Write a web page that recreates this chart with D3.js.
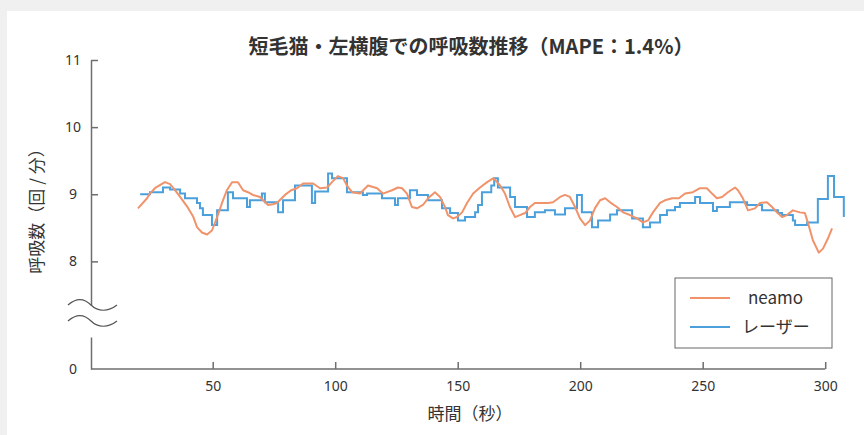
<!DOCTYPE html>
<html>
<head>
<meta charset="utf-8">
<script src="https://cdnjs.cloudflare.com/ajax/libs/d3/7.8.5/d3.min.js"></script>
<style>
    body {margin: 0; background: #f0f0f0;}
    svg {display: block; font-family: "Noto Sans CJK JP", "Noto Sans", sans-serif;}
    .axis path, .axis line {stroke: #6e6e6e; stroke-width: 1.5;}
    .axis text {fill: #333; font-size: 14px; font-family: "Noto Sans", "Noto Sans CJK JP", sans-serif;}
</style>
</head>
<body>
<div id="chart"></div>
<script>
var neamoTime = [19.5, 23.2, 24.4, 26.4, 30.5, 32.6, 34.6, 36.7, 39.5, 42, 43.6, 45.6, 47.7, 49.7, 51.8, 53.8, 55.8, 57.9, 60.3,
    62.4, 64.4, 66.4, 69.3, 70.9, 72.6, 74.6, 76.2, 79.5, 82, 84.4, 86.9, 91, 93.8, 96.7, 98.7, 101.1, 103.2, 104.8, 106.9,
    110.1, 113.4, 117.1, 119.5, 123.2, 125.6, 127.3, 129.3, 131.3, 133.4, 135.8, 137.9, 140.7, 142.8, 144.8, 146, 148.1,
    149.7, 151.8, 153.8, 156.3, 159.1, 162, 164.6, 167.3, 169.3, 171.3, 173.4, 175.4, 177.5, 179.5, 181.5, 184.8, 186.9,
    188.9, 191.8, 193.8, 195.8, 197.9, 199.9, 202, 204, 206, 208.1, 210.2, 212.2, 215, 217.5, 220.3, 223.2, 225.6, 227.7,
    229.7, 232.6, 234.6, 237.5, 240.3, 242.8, 246, 248.9, 251.7, 253.8, 255.8, 257.9, 260.3, 263.2, 264.4, 266.4, 268.5,
    271.3, 273.4, 276.2, 278.3, 280.3, 282.4, 284.4, 286.8, 289.7, 291.7, 293, 295, 297.4, 299.1, 301.1, 302.8];
var neamoValue = [8.79, 8.94, 9.01, 9.09, 9.18, 9.15, 9.06, 8.96, 8.82, 8.67, 8.51, 8.43, 8.40, 8.46, 8.66, 8.87, 9.06, 9.18, 9.18,
    9.06, 9.03, 8.99, 8.96, 8.90, 8.84, 8.85, 8.87, 8.99, 9.06, 9.09, 9.16, 9.16, 9.09, 9.10, 9.18, 9.27, 9.24, 9.13, 9.03,
    9.01, 9.13, 9.09, 9.01, 9.06, 9.10, 9.09, 9.01, 8.81, 8.79, 8.84, 8.94, 9.03, 8.96, 8.81, 8.69, 8.64,
    8.66, 8.73, 8.87, 9.01, 9.10, 9.18, 9.24, 9.13, 9.01, 8.81, 8.66, 8.69, 8.72, 8.81, 8.87, 8.87, 8.87,
    8.88, 8.96, 8.99, 8.96, 8.81, 8.64, 8.54, 8.61, 8.79, 8.91, 8.94, 8.88, 8.81, 8.73, 8.69, 8.64, 8.58, 8.61,
    8.73, 8.87, 8.91, 8.94, 8.94, 9.01, 9.03, 9.09, 9.09, 9.01, 8.94, 8.96, 9.03, 9.10, 9.06, 8.94, 8.76,
    8.79, 8.87, 8.88, 8.81, 8.73, 8.66, 8.69, 8.76, 8.73, 8.72, 8.57, 8.31, 8.13, 8.19, 8.34, 8.49];

// laser: step changes (time, value)
var laserTime = [20.4, 24.4, 29.7, 32.6, 36.7, 38.7, 43.6, 44.8, 46, 49.7, 51.8, 56.2, 58.3, 64, 65.2, 70.1, 71.3, 76.7, 78.7,
    83.6, 90.5, 91.8, 97.1, 98.7, 104.8, 111.3, 113, 119.1, 124.4, 125.6, 130.5, 133.4, 137.9, 143.6, 146.9, 150.1, 153,
    157.1, 158.3, 159.9, 163.7, 164.9, 166.4, 171.4, 173.4, 178.3, 181.5, 185.6, 189.7, 193.8, 198.7, 200.7, 204.8, 207.3,
    212.2, 215, 221.2, 225.6, 228.5, 232.6, 235.4, 238.7, 240.7, 246.9, 248.9, 254.2, 255.8, 261.1, 268.1, 274.2, 280.7,
    282.4, 286.8, 287.7, 292.6, 297, 301.1, 303.6, 307.6];
var laserValue = [9.00, 9.03, 9.10, 9.07, 9.01, 8.94, 8.87, 8.79, 8.69, 8.54, 8.76, 9.03, 8.94, 8.81, 8.91, 9.01, 8.88, 8.73, 8.91,
    9.13, 8.87, 9.04, 9.31, 9.24, 9.03, 8.99, 9.01, 8.94, 8.84, 8.94, 9.06, 8.99, 8.91, 8.79, 8.72, 8.61, 8.66,
    8.73, 8.84, 9.03, 9.13, 9.24, 9.10, 8.96, 8.81, 8.66, 8.73, 8.76, 8.70, 8.79, 8.99, 8.73, 8.51, 8.61,
    8.70, 8.76, 8.64, 8.51, 8.58, 8.69, 8.76, 8.81, 8.87, 8.96, 8.87, 8.75, 8.81, 8.88, 8.84, 8.76, 8.72,
    8.69, 8.61, 8.54, 8.58, 8.93, 9.27, 8.96, 8.66];

var xTicks = [50, 100, 150, 200, 250, 300];
var yTicks = [8, 9, 10, 11];
var seriesNames = ["neamo", "レーザー"];
var seriesColors = ["#f0936b", "#4ba0dc"];

var width = 864, height = 435;
var svg = d3.select("#chart").append("svg").attr("width", width).attr("height", height);

svg.append("rect").attr("x", 7).attr("y", 11).attr("width", width - 7).attr("height", height - 11).attr("fill", "#fff");

var x = d3.scaleLinear().domain([0, 300]).range([90.2, 825.2]);
var y = d3.scaleLinear().domain([7.35, 11]).range([305, 60]);   // upper part, above the break
var y0 = d3.scaleLinear().domain([0, 1]).range([369, 337]);     // lower part with the 0

// x axis
svg.append("g").attr("class", "axis").attr("transform", "translate(0,369)")
    .call(d3.axisBottom(x).tickValues(xTicks).tickSize(-7).tickPadding(12).tickSizeOuter(0).tickFormat(d3.format("d")))
    .call(function(g) {
        g.select(".domain").attr("d", "M91,0H" + x(300));
        g.selectAll("text").attr("dy", "0.71em");
    });

// y axis upper
svg.append("g").attr("class", "axis").attr("transform", "translate(91,0)")
    .call(d3.axisLeft(y).tickValues(yTicks).tickSize(-7).tickPadding(0).tickSizeOuter(0).tickFormat(d3.format("d")))
    .call(function(g) {
        g.selectAll("text").attr("text-anchor", "middle").attr("x", -18);
    });

// y axis lower
svg.append("g").attr("class", "axis").attr("transform", "translate(91,0)")
    .call(d3.axisLeft(y0).tickValues([0]).tickSize(0).tickPadding(0).tickSizeOuter(0).tickFormat(d3.format("d")))
    .call(function(g) {
        g.selectAll("text").attr("text-anchor", "middle").attr("x", -18);
    });

// break marks
var wave = "M68,0 C76,-7 84,-7 91,0 C98,7 108,7 117,0";
[305, 321].forEach(function(yy) {
    svg.append("path").attr("d", wave).attr("transform", "translate(0," + yy + ")")
        .attr("fill", "none").attr("stroke", "#555").attr("stroke-width", 1.2);
});

var neamo = neamoTime.map(function(t, i) { return [t, neamoValue[i]]; });
var laser = laserTime.map(function(t, i) { return [t, laserValue[i]]; });

svg.append("path").datum(laser)
    .attr("fill", "none").attr("stroke", seriesColors[1]).attr("stroke-width", 2)
    .attr("d", d3.line().x(function(d) { return x(d[0]); }).y(function(d) { return y(d[1]); }).curve(d3.curveStepAfter));

svg.append("path").datum(neamo)
    .attr("fill", "none").attr("stroke", seriesColors[0]).attr("stroke-width", 2).attr("stroke-linejoin", "round")
    .attr("d", d3.line().x(function(d) { return x(d[0]); }).y(function(d) { return y(d[1]); }));

// titles
svg.append("text").attr("x", 471).attr("y", 54).attr("text-anchor", "middle")
    .attr("font-size", 20).attr("font-weight", "bold").attr("fill", "#333")
    .text("短毛猫・左横腹での呼吸数推移（MAPE：1.4%）");
svg.append("text").attr("x", 470).attr("y", 420).attr("text-anchor", "middle")
    .attr("font-size", 17).attr("fill", "#333").text("時間（秒）");
svg.append("text").attr("transform", "translate(43,207) rotate(-90)").attr("text-anchor", "middle")
    .attr("font-size", 17).attr("fill", "#333").text("呼吸数（回 / 分）");

// legend
var legend = svg.append("g").attr("transform", "translate(675,278)");
legend.append("rect").attr("width", 157).attr("height", 70)
    .attr("fill", "#fff").attr("stroke", "#666").attr("stroke-width", 1);
legend.selectAll("g").data(seriesNames).enter().append("g")
    .attr("transform", function(d, i) { return "translate(0," + (20 + i * 29) + ")"; })
    .call(function(s) {
        s.append("line").attr("x1", 15).attr("x2", 55)
            .attr("stroke", function(d, i) { return seriesColors[i]; }).attr("stroke-width", 2);
        s.append("text").attr("x", function(d, i) { return i == 0 ? 73 : 67; }).attr("dy", "0.35em")
            .attr("font-size", 17).attr("fill", "#333").text(function(d) { return d; });
    });
</script>
</body>
</html>
